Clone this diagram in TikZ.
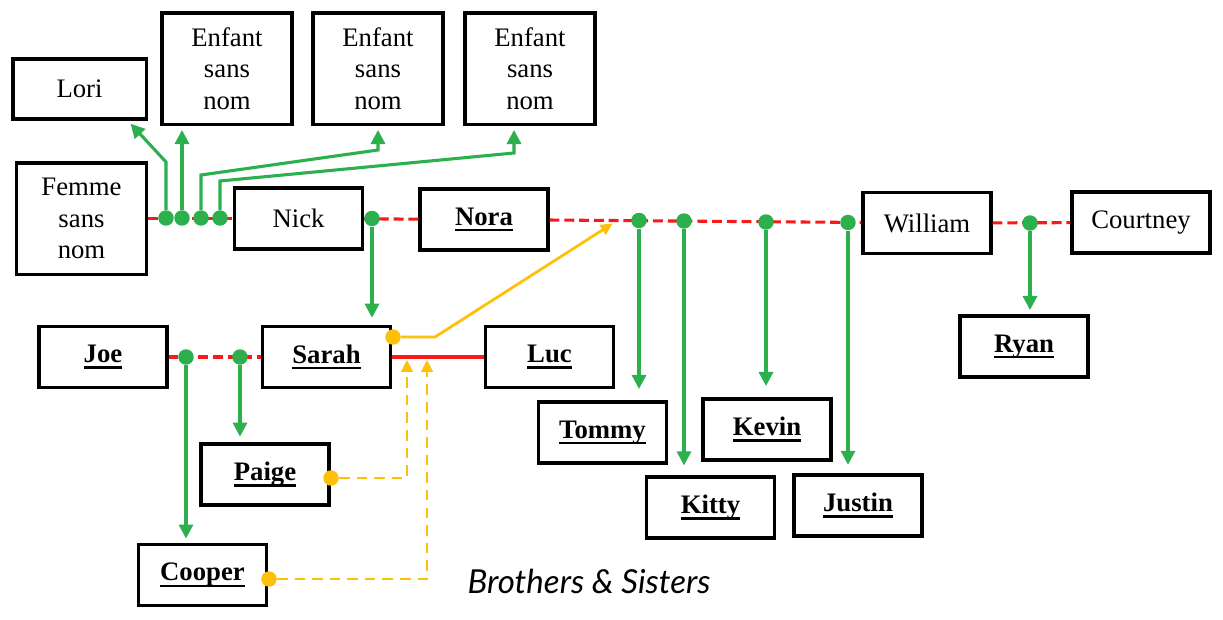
\documentclass[tikz,border=0pt]{standalone}
\usepackage{fontspec}
\setmainfont{Liberation Serif}
\newfontfamily\capfont{Lato}
\usetikzlibrary{arrows.meta, positioning}
\definecolor{Spouse}{RGB}{250, 25, 25}
\definecolor{Child}{RGB}{44, 176, 78}
\definecolor{Sibling}{RGB}{255, 192, 10}
\newsavebox{\kinbox}
\newcommand{\kin}[1]{\sbox{\kinbox}{\textbf{#1}}\rlap{\rule[-4.2pt]{\wd\kinbox}{1.6pt}}\usebox{\kinbox}}

\begin{document}
\begin{tikzpicture}[x=0.025cm, y=-0.025cm,
    person/.style={draw, line width=2.3pt, minimum width=3.2cm, minimum height=1.53cm, inner sep=1pt, align=center, font=\fontsize{19}{22.4}\selectfont},
    tall/.style={person, minimum width=3.25cm, minimum height=2.78cm},
    wed/.style={Spouse, line width=2.2pt, dash pattern=on 7pt off 3.5pt},
    kid/.style={Child, line width=2.2pt, -{Triangle[length=10pt, width=10pt]}, shorten >=3pt},
    sib/.style={Sibling, line width=2pt, -{Triangle[length=8.5pt, width=8pt]}, shorten >=2pt},
    dot/.style={circle, fill=#1, inner sep=0pt, minimum size=11pt},
    dot/.default=Child]
        \useasboundingbox (0,0) rectangle (1223,619);

        % Top row
        \node[person, minimum width=3.33cm, minimum height=1.5cm] (lori) at (79.5,89) {Lori};
        \node[tall] (enf1) at (227,68.5) {Enfant\\sans\\nom};
        \node[tall] (enf2) at (378,68.5) {Enfant\\sans\\nom};
        \node[tall] (enf3) at (530,68.5) {Enfant\\sans\\nom};

        % Parents row
        \node[tall, minimum height=2.78cm] (femme) at (81.5,218.5) {Femme\\sans\\nom};
        \node[person] (nick) at (298.5,218.5) {Nick};
        \node[person] (nora) at (484,219.5) {\kin{Nora}};
        \node[person] (william) at (927,223) {William};
        \node[person, minimum width=3.45cm] (courtney) at (1141,222.5) {Courtney};

        % Middle row
        \node[person] (joe) at (103,357) {\kin{Joe}};
        \node[person] (sarah) at (326.5,357) {\kin{Sarah}};
        \node[person] (luc) at (549.5,357) {\kin{Luc}};
        \node[person] (ryan) at (1024,346.5) {\kin{Ryan}};

        % Children
        \node[person] (tommy) at (602.5,432.5) {\kin{Tommy}};
        \node[person] (kevin) at (767,429.5) {\kin{Kevin}};
        \node[person] (kitty) at (710.5,507.5) {\kin{Kitty}};
        \node[person] (justin) at (858,505.5) {\kin{Justin}};
        \node[person] (paige) at (265,474.5) {\kin{Paige}};
        \node[person] (cooper) at (202.5,575) {\kin{Cooper}};

        % Couples
        \draw[wed] (femme) -- (nick);
        \draw[wed] (nick) -- (nora);
        \draw[wed] (nora) -- (william);
        \draw[wed] (william) -- (courtney);
        \draw[wed] (joe) -- (sarah);
        \draw[Spouse, line width=2.2pt] (sarah) -- (luc);

        % Dots on the couple lines
        \node[dot] (d1) at (166,218) {};
        \node[dot] (d2) at (182,218) {};
        \node[dot] (d3) at (201,218) {};
        \node[dot] (d4) at (220,218) {};
        \node[dot] (dn) at (372,218.5) {};
        \node[dot] (dt) at (639,220.5) {};
        \node[dot] (dk) at (684,221) {};
        \node[dot] (dv) at (766,222) {};
        \node[dot] (du) at (848,222.5) {};
        \node[dot] (dw) at (1030,223) {};
        \node[dot] (dj1) at (186,357) {};
        \node[dot] (dj2) at (240,357) {};

        % Descent
        \draw[kid] (d1) -- (166,162) -- ([xshift=-0.5cm]lori.south east);
        \draw[kid] (d2) -- (d2 |- enf1.south);
        \draw[kid] (d3) -- (201,175) -- (378,150) -- (enf2.south);
        \draw[kid] (d4) -- (220,181) -- (514,153) -- ([xshift=-0.4cm]enf3.south);
        \draw[kid, shorten >=5pt] (dn) -- (dn |- sarah.north);
        \draw[kid, shorten >=8pt] (dt) -- (dt |- tommy.north);
        \draw[kid, shorten >=7pt] (dk) -- (dk |- kitty.north);
        \draw[kid, shorten >=8pt] (dv) -- (dv |- kevin.north);
        \draw[kid, shorten >=6pt] (du) -- (du |- justin.north);
        \draw[kid] (dw) -- (dw |- ryan.north);
        \draw[kid] (dj1) -- (dj1 |- cooper.north);
        \draw[kid, shorten >=4pt] (dj2) -- (dj2 |- paige.north);

        % Siblings
        \coordinate (nw) at (615,222);
        \coordinate (sl1) at (407,357);
        \coordinate (sl2) at (427,357);
        \node[dot=Sibling] (ds) at (393,337) {};
        \node[dot=Sibling] (dp) at (331,478) {};
        \node[dot=Sibling] (dc) at (269,579) {};
        \draw[sib] (ds) -- (435,337) -- (nw);
        \draw[sib, dash pattern=on 7.5pt off 5pt] (dp) -| (sl1);
        \draw[sib, dash pattern=on 7.5pt off 5pt] (dc) -| (sl2);

        % Caption
        \node[font=\capfont\itshape\fontsize{23.5}{26}\selectfont] (title) at (589,581) {Brothers \& Sisters};
    \end{tikzpicture}
\end{document}
